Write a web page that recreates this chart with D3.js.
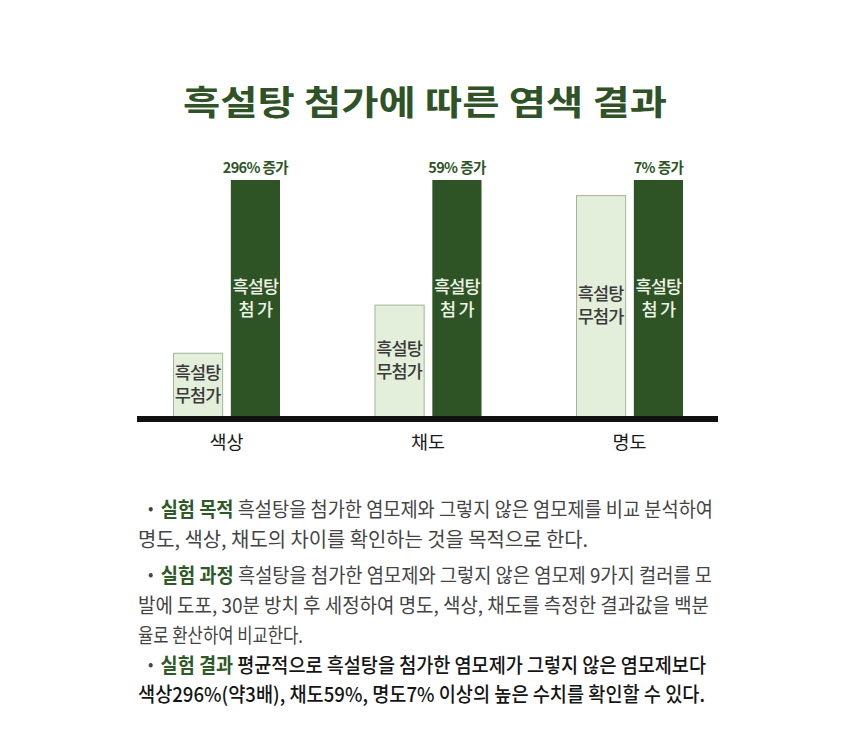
<!DOCTYPE html>
<html><head><meta charset="utf-8">
<script src="https://cdn.jsdelivr.net/npm/d3@7"></script>
<style>
html,body{margin:0;padding:0;background:#fff;}
svg{display:block;font-family:"Noto Sans CJK KR","Noto Sans",sans-serif;}
</style></head>
<body>
<svg id="chart" width="860" height="748"></svg>
<script>
const title = "흑설탕 첨가에 따른 염색 결과";
const categories = ["색상", "채도", "명도"];
const seriesKeys = ["without", "with"];
const withoutValues = [26.8, 47.2, 93.6];
const withValues = [100, 100, 100];
const increaseLabels = ["296% 증가", "59% 증가", "7% 증가"];
const withoutLabel = ["흑설탕", "무첨가"];
const withLabel = ["흑설탕", "첨 가"];
const bodyLines = [
  {label: "실험 목적", text: " 흑설탕을 첨가한 염모제와 그렇지 않은 염모제를 비교 분석하여", strong: false},
  {label: null, text: "명도, 색상, 채도의 차이를 확인하는 것을 목적으로 한다.", strong: false},
  {label: "실험 과정", text: " 흑설탕을 첨가한 염모제와 그렇지 않은 염모제 9가지 컬러를 모", strong: false},
  {label: null, text: "발에 도포, 30분 방치 후 세정하여 명도, 색상, 채도를 측정한 결과값을 백분", strong: false},
  {label: null, text: "율로 환산하여 비교한다.", strong: false},
  {label: "실험 결과", text: " 평균적으로 흑설탕을 첨가한 염모제가 그렇지 않은 염모제보다", strong: true},
  {label: null, text: "색상296%(약3배), 채도59%, 명도7% 이상의 높은 수치를 확인할 수 있다.", strong: true}
];

const svg = d3.select("#chart");
const dark = "#2e5425", light = "#e3efda", lightStroke = "#a3b596", titleColor = "#2f5327";

svg.append("text").attr("x", 425).attr("y", 103).attr("dy", "0.35em")
  .attr("text-anchor", "middle").attr("font-size", 34).attr("font-weight", 700)
  .attr("fill", titleColor).attr("textLength", 484).attr("lengthAdjust", "spacingAndGlyphs")
  .text(title);

const base = 416;
const x = d3.scaleBand().domain(categories).range([125.75, 730.25]).paddingInner(0.469).paddingOuter(0.2345);
const xi = d3.scaleBand().domain(seriesKeys).range([0, x.bandwidth()]).paddingInner(0.15);
const y = d3.scaleLinear().domain([0, 100]).range([base, 180]);

const data = categories.map((c, i) => ({cat: c, without: withoutValues[i], with: withValues[i], inc: increaseLabels[i]}));

const g = svg.append("g");
const groups = g.selectAll("g.grp").data(data).join("g").attr("class", "grp")
  .attr("transform", d => `translate(${x(d.cat)},0)`);

groups.append("rect").attr("x", xi("without") + 0.5).attr("width", xi.bandwidth())
  .attr("y", d => y(d.without) + 0.5).attr("height", d => base - y(d.without))
  .attr("fill", light).attr("stroke", lightStroke).attr("stroke-width", 1);
groups.append("rect").attr("x", xi("with")).attr("width", xi.bandwidth())
  .attr("y", d => y(d.with)).attr("height", d => base - y(d.with))
  .attr("fill", dark);

function twoLine(sel, lines, key, color) {
  const t = sel.append("text").attr("text-anchor", "middle").attr("font-size", 17.5)
    .attr("font-weight", 500).attr("fill", color).attr("letter-spacing", -0.8)
    .attr("transform", d => `translate(${xi(key) + xi.bandwidth() / 2},${(y(d[key]) + base) / 2})`);
  t.append("tspan").attr("x", 0).attr("y", -11.5).attr("dy", "0.35em").text(lines[0]);
  t.append("tspan").attr("x", 0).attr("y", 11.5).attr("dy", "0.35em").text(lines[1]);
}
twoLine(groups, withoutLabel, "without", "#3a3a3a");
twoLine(groups, withLabel, "with", "#eef3e8");

groups.append("text").attr("x", xi("with") + xi.bandwidth() / 2).attr("y", d => y(d.with) - 12)
  .attr("dy", "0.35em").attr("text-anchor", "middle").attr("font-size", 14.5).attr("font-weight", 700)
  .attr("fill", dark).attr("letter-spacing", -0.6).text(d => d.inc);

svg.append("line").attr("x1", 137).attr("x2", 718).attr("y1", base + 3).attr("y2", base + 3)
  .attr("stroke", "#111").attr("stroke-width", 6);

g.selectAll("text.cat").data(categories).join("text").attr("class", "cat")
  .attr("x", d => x(d) + x.bandwidth() / 2).attr("y", 443).attr("dy", "0.35em")
  .attr("text-anchor", "middle").attr("font-size", 18.5).attr("fill", "#1a1a1a").text(d => d);

const lineY = [510, 540, 576, 606, 635.5, 665.5, 695];
const lineX0 = [145, 138, 145, 138, 138, 145, 138];
const lineX1 = [713, 588, 712, 709, 303, 706, 705];
const body = svg.append("g").attr("font-size", 20);
bodyLines.forEach((l, i) => {
  const t = body.append("text").attr("x", lineX0[i]).attr("y", lineY[i]).attr("dy", "0.35em")
    .attr("textLength", lineX1[i] - lineX0[i]).attr("lengthAdjust", "spacingAndGlyphs")
    .attr("fill", l.strong ? "#151515" : "#444").attr("font-weight", l.strong ? 500 : 400);
  if (l.label) {
    t.append("tspan").attr("fill", "#444").attr("font-weight", 900).text("· ");
    t.append("tspan").attr("fill", "#2f5a27").attr("font-weight", 700).text(l.label);
  }
  t.append("tspan").text(l.text);
});
</script>
</body></html>
